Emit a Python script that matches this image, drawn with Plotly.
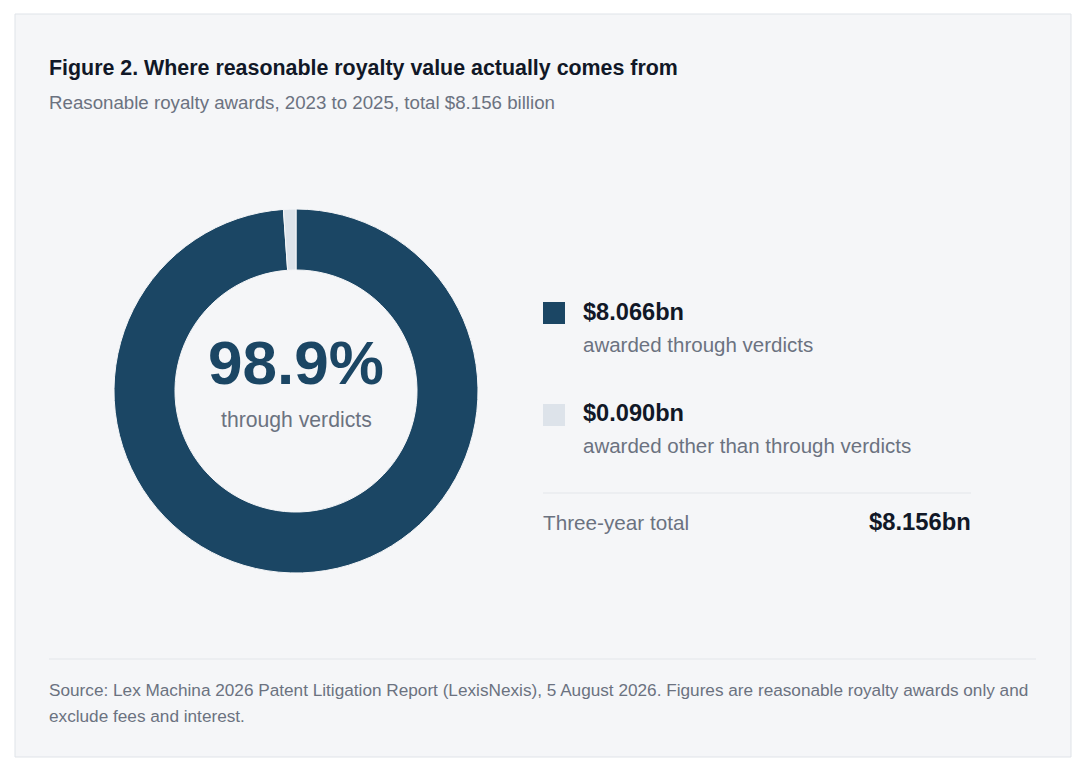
import plotly.graph_objects as go

# data
labels = ["awarded through verdicts", "awarded other than through verdicts"]
values_bn = [8.066, 0.090]
total_bn = 8.156
share_verdicts = 98.9
colors = ["#1b4664", "#dde3ea"]

W, H = 1087, 783
OFF = 8  # page body margin
PAD = 2  # annotation inner padding
FONT = "Liberation Sans, Arial, sans-serif"
DARK = "#111827"
GRAY = "#6b7280"
CARD = "#f5f6f8"


def px(x):
    return (x - OFF) / W


def py(y):
    return 1 - (y - OFF) / H


fig = go.Figure()

# donut, centre (296, 391), outer radius 182
cx, cy, r = 296, 391, 182
fig.add_trace(go.Pie(
    labels=labels,
    values=values_bn,
    hole=0.665,
    sort=False,
    direction="clockwise",
    rotation=0,
    marker=dict(colors=colors, line=dict(color=CARD, width=1)),
    textinfo="none",
    hoverinfo="label+value",
    showlegend=False,
    domain=dict(x=[px(cx - r), px(cx + r)], y=[py(cy + r), py(cy - r)]),
))

shapes = [
    # card
    dict(type="rect", xref="paper", yref="paper", x0=px(15), x1=px(1071), y0=py(757), y1=py(14),
         fillcolor=CARD, line=dict(color="#dfe3e8", width=1), layer="below"),
    # divider above total
    dict(type="line", xref="paper", yref="paper", x0=px(543), x1=px(971), y0=py(493), y1=py(493),
         line=dict(color="#e3e6ea", width=1.2)),
    # footer rule
    dict(type="line", xref="paper", yref="paper", x0=px(49), x1=px(1036), y0=py(659), y1=py(659),
         line=dict(color="#e3e6ea", width=1.2)),
]

# legend swatches
swatch_y = [313, 415]
for c, sy in zip(colors, swatch_y):
    shapes.append(dict(type="rect", xref="paper", yref="paper",
                       x0=px(543), x1=px(565), y0=py(sy + 11), y1=py(sy - 11),
                       fillcolor=c, line=dict(width=0)))


def txt(x, y, s, size, color, bold=False, xanchor="left"):
    if bold:
        s = "<b>" + s + "</b>"
    if xanchor == "left":
        x -= PAD
    elif xanchor == "right":
        x += PAD
    return dict(xref="paper", yref="paper", x=px(x), y=py(y), text=s, showarrow=False,
                xanchor=xanchor, yanchor="middle", align=xanchor if xanchor != "center" else "center",
                font=dict(family=FONT, size=size, color=color))


annotations = [
    txt(49, 68, "Figure 2. Where reasonable royalty value actually comes from", 21.4, DARK, True),
    txt(49, 102, "Reasonable royalty awards, 2023 to 2025, total $%.3f billion" % total_bn, 18.7, GRAY),
    txt(cx, 362, "%.1f%%" % share_verdicts, 62, colors[0], True, "center"),
    txt(cx, 420, "through verdicts", 21.2, GRAY, False, "center"),
    txt(583, 312, "$%.3fbn" % values_bn[0], 23.6, DARK, True),
    txt(583, 344, labels[0], 20.5, GRAY),
    txt(583, 413, "$%.3fbn" % values_bn[1], 23.6, DARK, True),
    txt(583, 446, labels[1], 20.5, GRAY),
    txt(543, 522, "Three-year total", 20.7, GRAY),
    txt(971, 521, "$%.3fbn" % total_bn, 23.8, DARK, True, "right"),
    txt(49, 690, "Source: Lex Machina 2026 Patent Litigation Report (LexisNexis), 5 August 2026. "
                 "Figures are reasonable royalty awards only and", 17.2, GRAY),
    txt(49, 716, "exclude fees and interest.", 17.2, GRAY),
]

fig.update_layout(
    width=W, height=H,
    margin=dict(l=0, r=0, t=0, b=0),
    paper_bgcolor="white",
    plot_bgcolor="white",
    shapes=shapes,
    annotations=annotations,
    showlegend=False,
)

fig.write_html("out.html")
